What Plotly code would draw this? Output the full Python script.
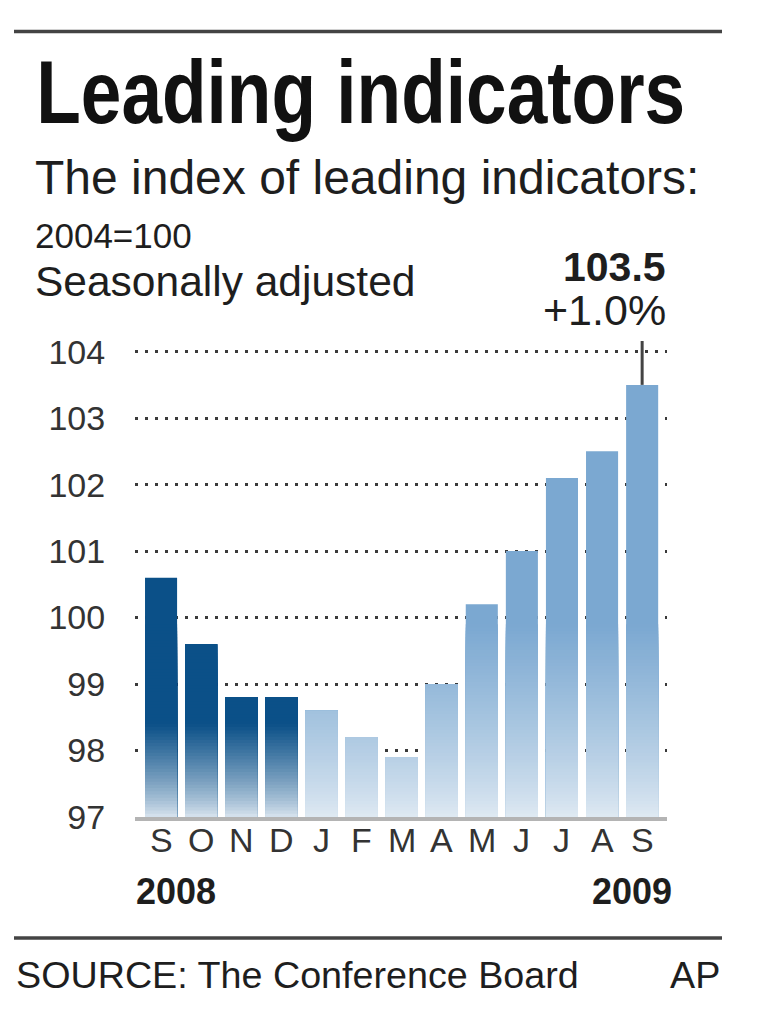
import plotly.graph_objects as go

# ---- data ----
months = ["S", "O", "N", "D", "J", "F", "M", "A", "M", "J", "J", "A", "S"]
years = [2008, 2008, 2008, 2008, 2009, 2009, 2009, 2009, 2009, 2009, 2009, 2009, 2009]
values = [100.6, 99.6, 98.8, 98.8, 98.6, 98.2, 97.9, 99.0, 100.2, 101.0, 102.1, 102.5, 103.5]
y_ticks = [97, 98, 99, 100, 101, 102, 103, 104]
latest_value_label = "103.5"
latest_change_label = "+1.0%"

# ---- layout geometry (page pixels) ----
W, H = 760, 1020
OFF = 8                      # default body margin of the page
ymin, ymax = y_ticks[0], 104.16
unit = (817 - 352) / (y_ticks[-1] - y_ticks[0])
L, R, B = 135, 667, 817
T = B - (ymax - ymin) * unit

def px(x):
    return (x - L) / (R - L)

def py(y):
    return (B - y) / (B - T)

def hex2rgb(h):
    h = h.lstrip("#")
    return tuple(int(h[i:i + 2], 16) for i in (0, 2, 4))

def mix(c1, c2, t):
    a, b = hex2rgb(c1), hex2rgb(c2)
    return "rgb(%d,%d,%d)" % tuple(round(a[i] + (b[i] - a[i]) * t) for i in range(3))

DARK = "#0b5088"
DARK_BOTTOM = "#dbe6f0"
LIGHT = "#7ba8d1"
LIGHT_BOTTOM = "#e0eaf3"
grad_top = {2008: 98.4, 2009: 99.9}

x = list(range(len(months)))
base_colors = [DARK if yr == 2008 else LIGHT for yr in years]

fig = go.Figure()
fig.add_trace(go.Bar(x=x, y=[v - ymin for v in values], base=ymin,
                     marker=dict(color=base_colors, line=dict(width=0)),
                     width=0.8, hoverinfo="skip"))

# gradient overlay (fade toward the baseline)
N = 60
step = (max(grad_top.values()) - ymin) / N
for k in range(N - 1, -1, -1):
    top_k = ymin + (k + 1) * step
    mid = ymin + (k + 0.5) * step
    ys, cols = [], []
    for v, yr in zip(values, years):
        gt = grad_top[yr]
        ys.append(max(min(v, top_k) - ymin, 0))
        t = min(max((mid - ymin) / (gt - ymin), 0), 1) ** 0.8
        cols.append(mix(DARK_BOTTOM, DARK, t) if yr == 2008 else mix(LIGHT_BOTTOM, LIGHT, t))
    fig.add_trace(go.Bar(x=x, y=ys, base=ymin, width=0.8,
                         marker=dict(color=cols, line=dict(width=0)),
                         hoverinfo="skip"))

font_main = "Liberation Sans, Arial, Helvetica, sans-serif"
txt = "#1e1e1e"

fig.update_layout(
    width=W, height=H,
    margin=dict(l=L - OFF, r=W - (R - OFF), t=T - OFF, b=H - (B - OFF), pad=0),
    paper_bgcolor="white", plot_bgcolor="white",
    showlegend=False, barmode="overlay", bargap=0.2,
    font=dict(family=font_main, color=txt),
    xaxis=dict(range=[-0.65, 12.62], tickmode="array", tickvals=x, showticklabels=False,
               showgrid=False, zeroline=False, showline=True, linecolor="#b4b4b4",
               linewidth=3.5, ticks="", fixedrange=True),
    yaxis=dict(range=[ymin, ymax], tickmode="array", tickvals=y_ticks,
               ticktext=[str(t) for t in y_ticks],
               showgrid=True, gridcolor="#3a3a3a", gridwidth=2.5, griddash="3px,7px",
               zeroline=False, showline=False, ticks="outside", ticklen=22,
               tickcolor="rgba(0,0,0,0)",
               tickfont=dict(size=34, color="#333", family=font_main), fixedrange=True),
)

# month labels under each bar
for i, m in enumerate(months):
    fig.add_annotation(text=m, x=i, xref="x", y=py(840), yref="paper",
                       xanchor="center", yanchor="middle", showarrow=False,
                       font=dict(size=34, color="#333", family=font_main))

TITLE = "Leading indicators"
ann = [
    dict(text=TITLE, x=px(360.5), y=py(97), size=78, xa="center", col="#111", w="bold"),
    dict(text="The index of leading indicators:", x=px(33), y=py(178), size=48, xa="left"),
    dict(text="2004=100", x=px(33), y=py(236), size=35, xa="left"),
    dict(text="Seasonally adjusted", x=px(33), y=py(282), size=42.5, xa="left"),
    dict(text=latest_value_label, x=px(668), y=py(267), size=41, xa="right", w="bold"),
    dict(text=latest_change_label, x=px(668), y=py(310), size=43, xa="right"),
    dict(text=str(years[0]), x=px(134), y=py(891), size=36, xa="left", w="bold"),
    dict(text=str(years[-1]), x=px(674), y=py(891), size=36, xa="right", w="bold"),
    dict(text="SOURCE: The Conference Board", x=px(14), y=py(975), size=37.7, xa="left"),
    dict(text="AP", x=px(722), y=py(975), size=37.7, xa="right"),
]
for a in ann:
    fig.add_annotation(text=a["text"], x=a["x"], y=a["y"], xref="paper", yref="paper",
                       xanchor=a["xa"], yanchor="middle", showarrow=False,
                       font=dict(size=a["size"], family=font_main,
                                 color=a.get("col", txt), weight=a.get("w", "normal")))

# horizontal rules
for yy in (32, 938):
    fig.add_shape(type="line", xref="paper", yref="paper", x0=px(14), x1=px(722),
                  y0=py(yy), y1=py(yy), line=dict(color="#444", width=3.5))

# leader line above the latest bar
fig.add_shape(type="line", xref="x", yref="y", x0=x[-1], x1=x[-1],
              y0=values[-1], y1=ymax, line=dict(color="#444", width=3), layer="above")

# condensed heavy headline: narrow the title and stretch it to full height
post = """
var gd = document.getElementById('{plot_id}');
function fixTitle(){
  var els = gd.querySelectorAll('text.annotation-text');
  els.forEach(function(el){
    if (el.textContent.trim() === 'Leading indicators' && !el.getAttribute('data-fixed')) {
      el.setAttribute('textLength', '649');
      el.setAttribute('lengthAdjust', 'spacingAndGlyphs');
      var by = parseFloat(el.getAttribute('y')) || 0;
      var s = 89 / 78;
      el.setAttribute('transform', 'translate(0,' + by + ') scale(1,' + s + ') translate(0,' + (-by) + ')');
      el.setAttribute('data-fixed', '1');
    }
  });
}
fixTitle();
if (gd.on) { gd.on('plotly_afterplot', fixTitle); }
setTimeout(fixTitle, 50);
setTimeout(fixTitle, 300);
"""
fig.write_html("out.html", post_script=post)
